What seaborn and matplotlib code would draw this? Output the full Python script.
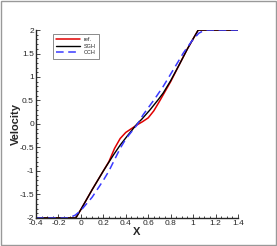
import numpy as np
import pandas as pd
import matplotlib
matplotlib.use('Agg')
import matplotlib.pyplot as plt
import seaborn as sns
from matplotlib.ticker import MultipleLocator
from matplotlib.patches import Rectangle

sns.set_style('ticks')
plt.rcParams['font.family'] = ['Liberation Sans', 'DejaVu Sans']

ref_x = [-0.4, -0.045, 0.0, 0.1, 0.2, 0.25, 0.3, 0.35, 0.4, 0.45, 0.5, 0.55, 0.6, 0.65,
         0.7, 0.75, 0.8, 0.883, 0.95, 1.0, 1.046, 1.4]
ref_v = [-2.0, -2.0, -1.82, -1.4, -1.0, -0.8, -0.52, -0.31, -0.18, -0.1, -0.02, 0.05, 0.13, 0.28,
         0.48, 0.69, 0.9, 1.29, 1.6, 1.81, 2.0, 2.0]

sgh_x = [-0.4, -0.045, 0.0, 0.1, 0.2, 0.29, 0.35, 0.422, 0.5, 0.542, 0.616, 0.69, 0.734, 0.8,
         0.883, 0.95, 1.0, 1.046, 1.4]
sgh_v = [-2.0, -2.0, -1.82, -1.4, -1.0, -0.66, -0.45, -0.23, 0.0, 0.1, 0.3, 0.52, 0.66, 0.92,
         1.29, 1.6, 1.81, 2.0, 2.0]

cch_x = [-0.4, -0.11, -0.05, 0.0, 0.1, 0.2, 0.25, 0.3, 0.35, 0.4, 0.5, 0.556, 0.66, 0.734, 0.853,
         0.913, 0.987, 1.05, 1.09, 1.12, 1.4]
cch_v = [-2.0, -2.0, -1.94, -1.84, -1.56, -1.2, -1.0, -0.76, -0.52, -0.32, -0.02, 0.2, 0.54, 0.8, 1.27,
         1.51, 1.76, 1.93, 1.98, 2.0, 2.0]

fig = plt.figure(figsize=(2.77, 2.46), dpi=100)
ax = fig.add_axes([0.130, 0.114, 0.729, 0.764])

sns.lineplot(x=ref_x, y=ref_v, ax=ax, color='#e00000', lw=1.1, label='ref.', sort=False)
sns.lineplot(x=sgh_x, y=sgh_v, ax=ax, color='black', lw=1.0, label='SGH', sort=False)
sns.lineplot(x=cch_x, y=cch_v, ax=ax, color='#3a3aff', lw=1.1, label='CCH', sort=False,
             linestyle=(0, (5, 3)))

ax.set_xlim(-0.4, 1.4)
ax.set_ylim(-2, 2)
ax.xaxis.set_major_locator(MultipleLocator(0.2))
ax.xaxis.set_minor_locator(MultipleLocator(0.05))
ax.yaxis.set_major_locator(MultipleLocator(0.5))
ax.yaxis.set_minor_locator(MultipleLocator(0.1))
ax.tick_params(which='both', direction='in', labelsize=6, pad=1.5, width=0.6)
ax.tick_params(which='major', length=3)
ax.tick_params(which='minor', length=1.5)
ax.set_xticklabels([f'{t:g}' for t in ax.get_xticks()])
ax.set_yticklabels([f'{t:g}' for t in ax.get_yticks()])
for s in ['top', 'right']:
    ax.spines[s].set_visible(False)
for s in ['left', 'bottom']:
    ax.spines[s].set_linewidth(1.0)
ax.set_xlabel('X', fontsize=8, fontweight='bold', labelpad=0)
ax.set_ylabel('Velocity', fontsize=8, fontweight='bold', labelpad=-1)

leg = ax.legend(loc='upper left', bbox_to_anchor=(0.084, 0.98), borderaxespad=0, fontsize=4,
                frameon=True, fancybox=False, handlelength=4.2, borderpad=0.6, labelspacing=0.3,
                handletextpad=0.8)
leg.get_frame().set_edgecolor('#555555')
leg.get_frame().set_linewidth(0.6)

fig.patches.append(Rectangle((0.004, 0.004), 0.992, 0.992, transform=fig.transFigure,
                             fill=False, edgecolor='#999999', lw=1.0))

fig.savefig('out.png', dpi=100)
